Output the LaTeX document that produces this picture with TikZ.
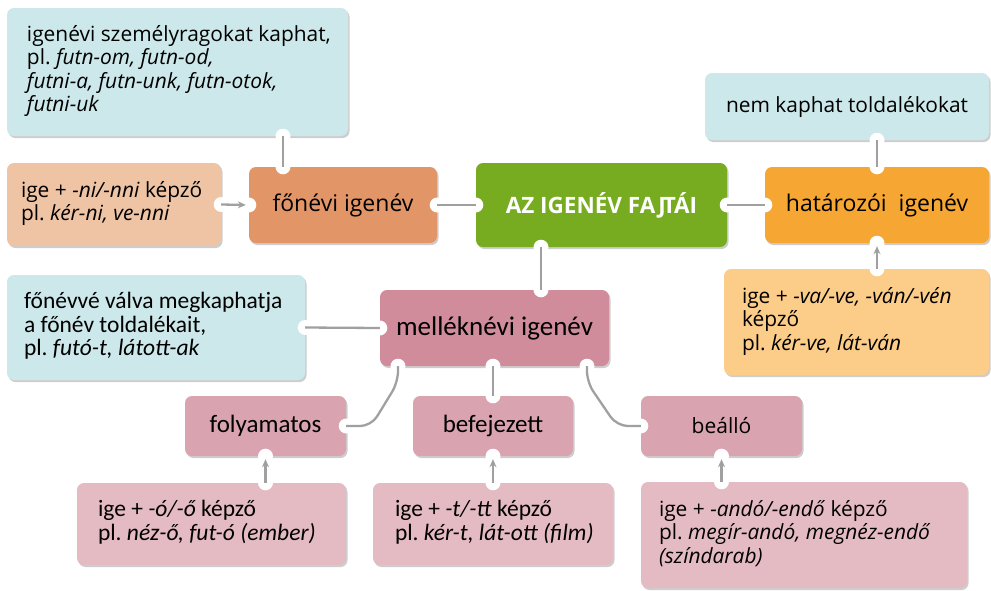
\documentclass[tikz,border=0pt]{standalone}
\usepackage{fontspec}
\setmainfont{Open Sans}
\newfontfamily\calfont{Carlito}
\usetikzlibrary{shadows,arrows.meta}
\frenchspacing
\newcommand\lbox[2]{\makebox[#1][l]{\begin{tabular}{@{}l@{}}#2\end{tabular}}}
\definecolor{cBlue}{HTML}{CCE8EA}
\definecolor{cPeach}{HTML}{EFC4A5}
\definecolor{cFon}{HTML}{E29668}
\definecolor{cGreen}{HTML}{77AC21}
\definecolor{cOrange}{HTML}{F5A633}
\definecolor{cLOrange}{HTML}{FCCC89}
\definecolor{cMel}{HTML}{D18C9C}
\definecolor{cSub}{HTML}{D9A3B0}
\definecolor{cLPink}{HTML}{E4BAC3}
\definecolor{cLine}{HTML}{A0A0A0}
\tikzset{
  box/.style={rectangle, rounded corners=7pt, inner sep=0pt, align=center,
    drop shadow={shadow xshift=1.5pt, shadow yshift=-2pt, opacity=0.28, fill=black!70}},
  txtbox/.style={box, font=\fontsize{20.9}{23.5}\selectfont},
  calbox/.style={box, font=\calfont\fontsize{23.5}{23.5}\selectfont},
  headbox/.style={box, font=\fontsize{23}{26}\selectfont},
  subbox/.style={box, font=\calfont\fontsize{25}{28}\selectfont},
  notch/.style={circle, fill=white, inner sep=0pt, minimum size=15pt},
  conn/.style={draw=cLine, line width=2.3pt},
  arr/.style={conn, -{Stealth[length=8pt,width=7pt]}, shorten >=3pt},
}
\begin{document}
\begin{tikzpicture}[x=1pt,y=-1pt]
\useasboundingbox (0,0) rectangle (991,590);
% boxes
\node[txtbox, fill=cBlue, minimum width=341pt, minimum height=128pt] (tl) at (177.5,72)
  {\lbox{301pt}{igenévi személyragokat kaphat,\\ pl. \textit{futn-om, futn-od,}\\ \textit{futni-a, futn-unk, futn-otok,}\\ \textit{futni-uk}}};
\node[txtbox, fill=cPeach, minimum width=214pt, minimum height=83pt] (pe) at (114,204.5)
  {\lbox{186pt}{ige + \textit{-ni/-nni} képző\\ pl. \textit{kér-ni, ve-nni}}};
\node[headbox, fill=cFon, minimum width=188pt, minimum height=76pt] (fo) at (343,205) {főnévi igenév};
\node[headbox, fill=cGreen, minimum width=251pt, minimum height=84pt, text=white, font=\bfseries\fontsize{22.5}{26}\selectfont] (az) at (601.5,205) {AZ IGENÉV FAJ\kern-3pt TÁI};
\node[txtbox, fill=cBlue, minimum width=284pt, minimum height=67pt] (nk) at (847,106.5) {nem kaphat toldalékokat};
\node[headbox, fill=cOrange, minimum width=224pt, minimum height=76pt] (ha) at (877,205) {határozói\ \ igenév};
\node[txtbox, fill=cLOrange, minimum width=265pt, minimum height=106pt] (va) at (856.5,322)
  {\lbox{229pt}{ige + \textit{-va/-ve, -ván/-vén}\\ képző\\ pl. \textit{kér-ve, lát-ván}}};
\node[calbox, fill=cBlue, minimum width=298pt, minimum height=105pt] (fv) at (156,327.5)
  {\lbox{264pt}{főnévvé válva megkaphatja\\ a főnév toldalékait,\\ pl. \textit{futó-t, látott-ak}}};
\node[subbox, fill=cMel, minimum width=229pt, minimum height=76pt, font=\calfont\fontsize{27}{30}\selectfont] (me) at (494.5,328) {melléknévi igenév};
\node[subbox, fill=cSub, minimum width=161pt, minimum height=60pt] (fy) at (265.5,426) {folyamatos};
\node[subbox, fill=cSub, minimum width=160pt, minimum height=60pt] (be) at (493,426) {befejezett};
\node[headbox, fill=cSub, minimum width=161pt, minimum height=60pt, font=\fontsize{21}{24}\selectfont] (ba) at (721.5,426) {beálló};
\node[calbox, fill=cLPink, minimum width=269pt, minimum height=82pt] (oo) at (211.5,524)
  {\lbox{227pt}{ige + \textit{-ó/-ő} képző\\ pl. \textit{néz-ő, fut-ó (ember)}}};
\node[calbox, fill=cLPink, minimum width=240pt, minimum height=82pt] (tt) at (493,524)
  {\lbox{196pt}{ige + \textit{-t/-tt} képző\\ pl. \textit{kér-t, lát-ott (film)}}};
\node[txtbox, fill=cLPink, minimum width=326pt, minimum height=106pt] (an) at (804,535)
  {\lbox{290pt}{ige + \textit{-andó/-endő} képző\\ pl. \textit{megír-andó, megnéz-endő}\\ \textit{(színdarab)}}};
% notch points
\coordinate (fo-n) at ([xshift=-60pt]fo.north);
\coordinate (tl-s) at (tl.south -| fo-n);
\coordinate (az-s) at ([xshift=-60.5pt]az.south);
\coordinate (me-n) at (me.north -| az-s);
\coordinate (me-s1) at ([xshift=-96.5pt]me.south);
\coordinate (me-s2) at (me.south -| be.north);
\coordinate (me-s3) at ([xshift=92.5pt]me.south);
\coordinate (nk-s) at (nk.south -| ha.north);
\coordinate (va-n) at (va.north -| ha.south);
\coordinate (oo-n) at (oo.north -| fy.south);
\coordinate (tt-n) at (tt.north -| be.south);
\coordinate (an-n) at (an.north -| ba.south);
\foreach \p in {tl-s, pe.east, fo-n, fo.west, fo.east, az.west, az.east, az-s, nk-s,
  ha.west, ha.north, ha.south, va-n, fv.east, me-n, me.west, me-s1, me-s2, me-s3,
  fy.east, fy.south, be.north, be.south, ba.west, ba.south, oo-n, tt-n, an-n}
  \node[notch] at (\p) {};
% connectors
\draw[conn] (tl-s) -- (fo-n);
\draw[arr] (pe.east) -- (fo.west);
\draw[conn] (fo.east) -- (az.west);
\draw[conn] (az.east) -- (ha.west);
\draw[conn] (nk-s) -- (ha.north);
\draw[arr] (va-n) -- (ha.south);
\draw[conn] (az-s) -- (me-n);
\draw[conn] (fv.east) -- (me.west);
\draw[conn] (me-s2) -- (be.north);
\draw[conn, rounded corners=11pt] (me-s1) -- ++(0,16) -- ([xshift=25pt]fy.east) -- (fy.east);
\draw[conn, rounded corners=11pt] (me-s3) -- ++(0,16) -- ([xshift=-24pt]ba.west) -- (ba.west);
\draw[arr] (oo-n) -- (fy.south);
\draw[arr] (tt-n) -- (be.south);
\draw[arr] (an-n) -- (ba.south);
\end{tikzpicture}
\end{document}
